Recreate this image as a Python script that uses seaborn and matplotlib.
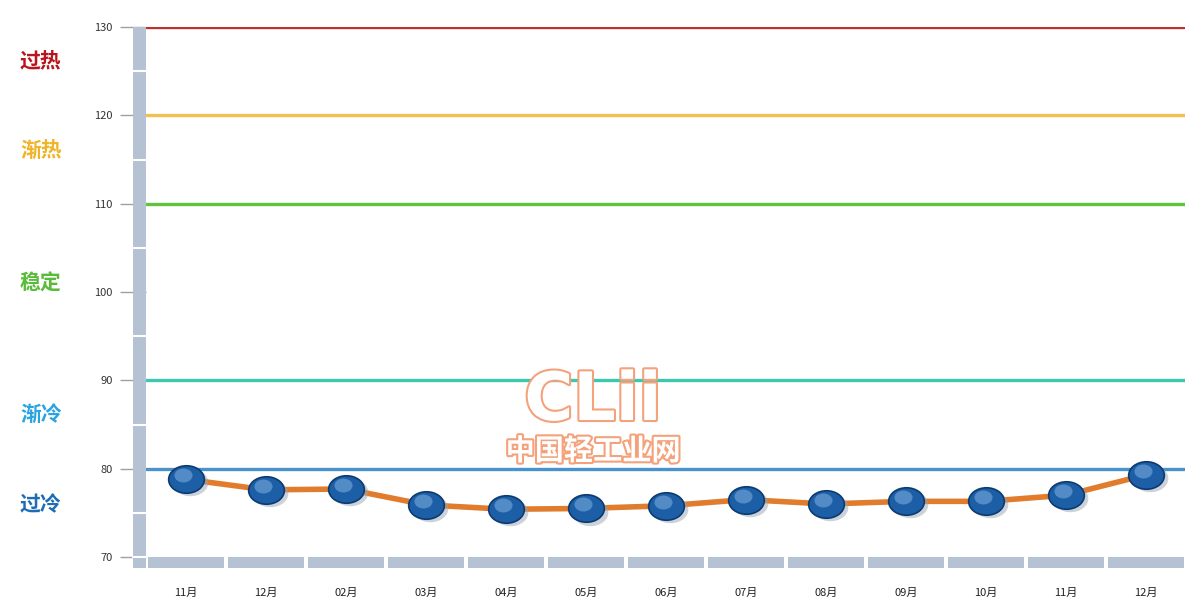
import numpy as np
import pandas as pd
import seaborn as sns
import matplotlib.pyplot as plt
from matplotlib.patches import Rectangle
from matplotlib.path import Path
from matplotlib.transforms import Affine2D
import matplotlib.patheffects as pe

# 数据
months = ['11月', '12月', '02月', '03月', '04月', '05月', '06月',
          '07月', '08月', '09月', '10月', '11月', '12月']
values = [78.8, 77.6, 77.7, 75.9, 75.4, 75.5, 75.8, 76.5, 76.0, 76.3, 76.3, 77.0, 79.3]

levels = [130, 120, 110, 90, 80]
level_colors = ['#c0302c', '#f2c050', '#62c43c', '#3cc8b0', '#4a92cc']

zone_names = ['过热', '渐热', '稳定', '渐冷', '过冷']
zone_y = [126.2, 116.0, 101.0, 86.1, 75.9]
zone_colors = ['#b8161c', '#f0b428', '#58bc38', '#2aa4e0', '#1e6cb4']

df = pd.DataFrame({'idx': np.arange(len(months)), 'value': values})

sns.set_style('white')
plt.rcParams['font.family'] = ['Noto Sans CJK SC', 'DejaVu Sans']

fig = plt.figure(figsize=(11.85, 6.03), dpi=100)
ax = fig.add_axes([146 / 1185, 1 - 557 / 603, 1040 / 1185, 530 / 603])

# 参考线
for lv, c in zip(levels, level_colors):
    ax.axhline(lv, color=c, lw=2.4, zorder=1)

# 折线
sns.lineplot(data=df, x='idx', y='value', color='#e07c2c', lw=4, ax=ax, zorder=3)

# 椭圆标记
ell = Path.unit_circle().transformed(Affine2D().scale(1.3, 1.0))
ax.scatter(df['idx'] + 0.05, df['value'] - 0.35, marker=ell, s=660, color='#9aa6b4',
           alpha=0.5, linewidths=0, zorder=4)
ax.scatter(df['idx'], df['value'], marker=ell, s=660, color='#1c5fa6',
           edgecolors='#0d3a70', linewidths=1.2, zorder=5)
ax.scatter(df['idx'] - 0.04, df['value'] + 0.45, marker=ell, s=170, color='#7fb0e0',
           alpha=0.55, linewidths=0, zorder=6)

ax.set_xlim(-0.5, len(months) - 0.5)
ax.set_ylim(70, 130)
ax.set_yticks(range(70, 131, 10))
ax.set_xticks(range(len(months)))
ax.set_xticklabels(months)
ax.set_xlabel('')
ax.set_ylabel('')
for s in ax.spines.values():
    s.set_visible(False)
ax.tick_params(axis='y', left=True, length=19, width=1, color='#a0a0a0', pad=5,
               labelsize=8, labelcolor='#333333')
ax.tick_params(axis='x', bottom=False, length=0, pad=22, labelsize=8, labelcolor='#222222')

# 左侧灰色墙
bar_w = 13 / 1040
ax.add_patch(Rectangle((-bar_w, -11 / 530), bar_w, 1 + 11 / 530, transform=ax.transAxes,
                       facecolor='#b4c2d4', edgecolor='none', clip_on=False, zorder=7))
for v in range(75, 130, 10):
    yy = (v - 70) / 60
    ax.plot([-bar_w, 0], [yy, yy], transform=ax.transAxes, color='white', lw=1.5,
            clip_on=False, zorder=8)
ax.plot([-bar_w, 0], [0, 0], transform=ax.transAxes, color='white', lw=1.5,
        clip_on=False, zorder=8)

# 底部灰色条
tr = ax.get_xaxis_transform()
for i in range(len(months)):
    ax.add_patch(Rectangle((i - 0.5 + 0.02, -11 / 530), 0.96, 11 / 530, transform=tr,
                           facecolor='#b4c2d4', edgecolor='none', clip_on=False, zorder=7))

# 左侧区域文字
for name, yv, c in zip(zone_names, zone_y, zone_colors):
    fig.text(20 / 1185, ax.transData.transform((0, yv))[1] / fig.bbox.height, name,
             color=c, fontsize=15, fontweight='heavy', va='center', ha='left')

# 水印
wm = [pe.withStroke(linewidth=3, foreground='#f4a27c')]
fig.text(593 / 1185, 1 - 401 / 603, 'CLii', fontsize=48, fontweight='bold', color='white',
         ha='center', va='center', family='DejaVu Sans', path_effects=wm, zorder=10)
fig.text(593 / 1185, 1 - 451 / 603, '中国轻工业网', fontsize=21, fontweight='bold',
         color='white', ha='center', va='center', path_effects=wm, zorder=10)

plt.savefig('out.png', dpi=100)
